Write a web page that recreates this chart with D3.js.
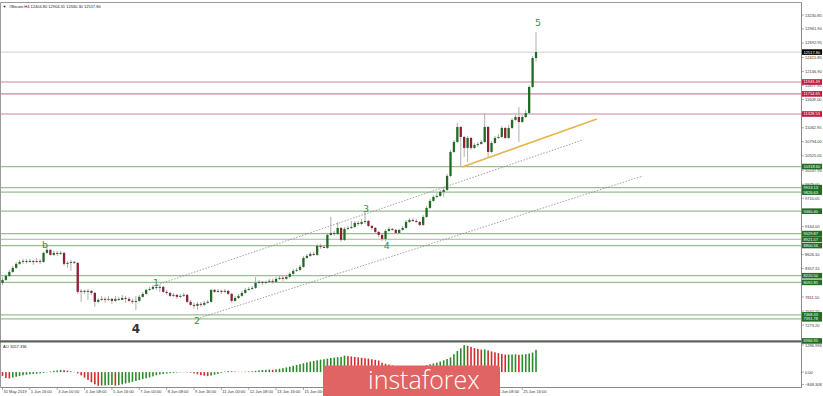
<!DOCTYPE html>
<html>
<head>
<meta charset="utf-8">
<script src="https://cdn.jsdelivr.net/npm/d3@7"></script>
<style>
  html, body { margin: 0; padding: 0; background: #fff; }
  svg { display: block; font-family: "Liberation Sans", Arial, sans-serif; }
</style>
</head>
<body>
<svg class="chart"></svg>
<script>
// H4 candles, 31 May 08:00 .. 26 Jun 08:00 (open of a bar = previous close)
const firstOpen = 8083;
const closes = [
  8140, 8217, 8294, 8371, 8448, 8486, 8505, 8486, 8505, 8486,
  8505, 8486, 8659, 8717, 8621, 8659, 8640, 8659, 8448, 8467,
  8486, 8467, 7910, 7929, 7910, 7929, 7890, 7718, 7756, 7775,
  7756, 7775, 7737, 7775, 7756, 7794, 7775, 7737, 7718, 7737,
  7814, 7871, 7948, 7967, 8006, 7987, 8006, 7910, 7890, 7833,
  7852, 7814, 7833, 7852, 7718, 7660, 7641, 7679, 7660, 7698,
  7718, 7948, 7910, 7929, 7910, 7929, 7871, 7737, 7794, 7833,
  7890, 7948, 7967, 7987, 8083, 8102, 8083, 8102, 8121, 8102,
  8160, 8179, 8160, 8198, 8256, 8313, 8332, 8390, 8563, 8601,
  8640, 8621, 8793, 8774, 8755, 9005, 9043, 9024, 9139, 8909,
  9120, 9139, 9158, 9235, 9216, 9254, 9273, 9177, 9139, 9062,
  9005, 8928, 9081, 9120, 9101, 9043, 9101, 9139, 9254, 9293,
  9273, 9254, 9197, 9350, 9523, 9658, 9735, 9754, 9831, 9869,
  10138, 10599, 10791, 11079, 10887, 10676, 10868, 10676, 10734, 10753,
  10791, 11079, 10599, 10772, 10868, 10887, 11060, 10868, 11060, 11214,
  11271, 11175, 11271, 11348, 11848, 12404.80, 12517.80
];
const highs = [
  8198, 8256, 8332, 8409, 8486, 8524, 8544, 8544, 8544, 8524,
  8563, 8544, 8678, 8793, 8736, 8697, 8697, 8697, 8678, 8505,
  8524, 8505, 8486, 7967, 7948, 7967, 7948, 7910, 7794, 7833,
  7814, 7833, 7794, 7833, 7814, 7852, 7833, 7814, 7775, 7833,
  7852, 7910, 7967, 8006, 8044, 8044, 8044, 8025, 7948, 7910,
  7890, 7871, 7871, 7890, 7871, 7756, 7698, 7718, 7718, 7737,
  7756, 7967, 7967, 7967, 7948, 7967, 7948, 7890, 7833, 7871,
  7929, 7987, 8006, 8025, 8198, 8140, 8121, 8121, 8160, 8160,
  8198, 8217, 8217, 8236, 8294, 8352, 8371, 8429, 8601, 8640,
  8678, 8678, 8832, 8832, 8812, 9043, 9350, 9081, 9254, 9158,
  9158, 9177, 9273, 9273, 9273, 9312, 9446, 9293, 9197, 9158,
  9081, 9024, 9120, 9158, 9139, 9120, 9120, 9177, 9293, 9331,
  9331, 9312, 9273, 9389, 9562, 9696, 9773, 9811, 9869, 9927,
  10177, 10638, 10830, 11156, 11099, 10906, 10906, 10887, 10772, 10791,
  10830, 11329, 11099, 10810, 10906, 10945, 11099, 11079, 11118, 11252,
  11310, 11463, 11310, 11406, 11886, 12443, 12904.31
];
const lows = [
  8044, 8121, 8198, 8275, 8352, 8429, 8448, 8448, 8467, 8429,
  8467, 8448, 8467, 8640, 8601, 8601, 8601, 8621, 8409, 8371,
  8313, 8448, 7871, 7718, 7871, 7756, 7852, 7621, 7698, 7737,
  7698, 7737, 7679, 7718, 7737, 7756, 7698, 7718, 7679, 7564,
  7718, 7794, 7852, 7929, 7948, 7948, 7910, 7890, 7852, 7814,
  7814, 7775, 7794, 7814, 7698, 7641, 7583, 7564, 7621, 7641,
  7679, 7698, 7890, 7890, 7871, 7890, 7852, 7698, 7718, 7775,
  7814, 7871, 7929, 7948, 7967, 8064, 8044, 8064, 8083, 8064,
  8083, 8140, 8121, 8140, 8179, 8236, 8294, 8313, 8371, 8544,
  8582, 8601, 8601, 8736, 8755, 8736, 8985, 8985, 9005, 8870,
  8889, 9101, 9120, 9139, 9177, 9197, 9216, 9158, 9101, 9043,
  8966, 8889, 8889, 9062, 9081, 9024, 9024, 9081, 9120, 9235,
  9254, 9235, 9177, 9177, 9331, 9504, 9639, 9715, 9735, 9735,
  9850, 10119, 10580, 10772, 10311, 10503, 10407, 10638, 10657, 10695,
  10734, 10772, 10503, 10580, 10753, 10849, 10868, 10849, 10849, 11041,
  11195, 10791, 11156, 11252, 11329, 11829, 12340.30
];
// Awesome Oscillator, one bar per candle
const aoValues = [
  -180, -280, -300, -260, -220, -180, -150, -120, -100, -90,
  -80, -60, -40, -10, 30, 60, 80, 100, 95, 70,
  40, 10, -60, -150, -260, -370, -480, -580, -650, -640,
  -630, -620, -610, -640, -620, -580, -540, -500, -460, -420,
  -380, -330, -290, -250, -200, -150, -110, -90, -70, -50,
  -35, -25, -15, -10, -15, -30, -60, -100, -140, -170,
  -190, -160, -120, -80, -40, 20, 50, 40, 25, 15,
  10, 20, 30, 40, 60, 80, 100, 110, 120, 105,
  130, 160, 190, 220, 260, 300, 340, 380, 420, 460,
  500, 530, 560, 590, 610, 640, 670, 690, 710, 720,
  780, 760, 740, 720, 700, 680, 660, 640, 610, 580,
  550, 440, 400, 360, 320, 280, 250, 230, 220, 230,
  240, 250, 260, 290, 330, 370, 410, 450, 500, 560,
  620, 700, 850, 1000, 1130, 1280, 1250, 1200, 1140, 1100,
  1070, 1080, 1030, 980, 940, 900, 860, 830, 835, 840,
  845, 820, 830, 850, 880, 930, 1057.336
];
const dateLabels = [
  "31 May 2019", "1 Jun 16:00", "3 Jun 00:00", "4 Jun 08:00", "5 Jun 16:00",
  "7 Jun 00:00", "8 Jun 08:00", "9 Jun 16:00", "11 Jun 00:00", "12 Jun 08:00",
  "13 Jun 16:00", "15 Jun 00:00", "16 Jun 08:00", "17 Jun 16:00", "19 Jun 00:00",
  "20 Jun 08:00", "21 Jun 16:00", "23 Jun 00:00", "24 Jun 08:00", "25 Jun 16:00"
];
const priceTicks = [
  13230.85, 12961.90, 12692.95, 12415.85, 12146.90, 11877.95, 11609.00, 11331.90,
  11062.95, 10794.00, 10525.05, 10247.95, 9979.00, 9710.05, 9441.10, 9164.00,
  8895.05, 8626.10, 8357.15, 8080.05, 7811.10, 7542.15, 7273.20
];
const aoTicks = [1286.996, 0, -848.308];
const redLevels = [11943.49, 11714.65, 11328.53];
const greenLevels = [10318.60, 9913.13, 9826.63, 9460.40, 9029.87, 8921.57, 8800.56,
  8220.50, 8092.85, 7468.43, 7391.78, 6966.95];
const lastPrice = 12517.80;
const headerText = "#Bitcoin,H4  12404.80 12904.31 12340.30 12517.80";
const aoText = "AO 1057.336";
// wave marks: bar index, price
const waveLabels = [
  { t: "b", i: 12.4, p: 8812, big: false },
  { t: "1", i: 44.9, p: 8083, big: false },
  { t: "2", i: 56.9, p: 7353, big: false },
  { t: "3", i: 106.3, p: 9504, big: false },
  { t: "4", i: 112.4, p: 8793, big: false },
  { t: "5", i: 156.6, p: 13096, big: false },
  { t: "4", i: 39.0, p: 7199, big: true }
];
const trendLines = [
  { a: [45.2, 8044], b: [169.7, 10830], kind: "dot" },
  { a: [57.7, 7410], b: [187.3, 10138], kind: "dot" },
  { a: [134.4, 10311], b: [173.8, 11233], kind: "gold" }
];

const W = 823, H = 396;
const axisX = 801.5;
const mainTop = 2.5, sepY = 341.5, aoBottom = 387.5;
const fs = 4;
const mark = { x: 323, y: 365.5, w: 177, h: 30.5 };

const svg = d3.select(".chart").attr("width", W).attr("height", H);
svg.append("rect").attr("width", W).attr("height", H).attr("fill", "#fff");

const x = d3.scaleLinear().domain([0, closes.length - 1]).range([2.5, 536]);
const y = d3.scaleLinear().domain([7273.20, 13230.85]).range([325, 15]);
const yAo = d3.scaleLinear().domain([-848.308, 1286.996]).range([390, 345]);

const candles = closes.map((c, i) => {
    const o = i === 0 ? firstOpen : closes[i - 1];
    return { i, o, c, h: Math.max(highs[i], o, c), l: Math.min(lows[i], o, c) };
});

svg.append("clipPath").attr("id", "mainClip")
    .append("rect").attr("x", 0).attr("y", mainTop).attr("width", axisX).attr("height", sepY - mainTop + 1);
svg.append("clipPath").attr("id", "aoClip")
    .append("rect").attr("x", 0).attr("y", sepY).attr("width", axisX).attr("height", aoBottom - sepY);

const main = svg.append("g").attr("clip-path", "url(#mainClip)");

// horizontal levels
main.append("line")
    .attr("x1", 0).attr("x2", axisX)
    .attr("y1", y(lastPrice)).attr("y2", y(lastPrice))
    .attr("stroke", "#cfcfcf").attr("stroke-width", 1);
main.selectAll(".lvl-red").data(redLevels).enter().append("line")
    .attr("x1", 0).attr("x2", axisX)
    .attr("y1", (d) => y(d)).attr("y2", (d) => y(d))
    .attr("stroke", "#c48a97").attr("stroke-width", 1.2);
main.selectAll(".lvl-green").data(greenLevels).enter().append("line")
    .attr("x1", 0).attr("x2", axisX)
    .attr("y1", (d) => y(d)).attr("y2", (d) => y(d))
    .attr("stroke", "#97bf90").attr("stroke-width", 1.2);

// trend / channel lines
main.selectAll(".trend").data(trendLines).enter().append("line")
    .attr("x1", (d) => x(d.a[0])).attr("y1", (d) => y(d.a[1]))
    .attr("x2", (d) => x(d.b[0])).attr("y2", (d) => y(d.b[1]))
    .attr("stroke", (d) => (d.kind === "gold" ? "#e6b54a" : "#8a8a8a"))
    .attr("stroke-width", (d) => (d.kind === "gold" ? 1.6 : 0.8))
    .attr("stroke-dasharray", (d) => (d.kind === "gold" ? null : "1.5,1.5"));

// candles
const bw = 2.3;
main.selectAll(".wick").data(candles).enter().append("line")
    .attr("x1", (d) => x(d.i)).attr("x2", (d) => x(d.i))
    .attr("y1", (d) => y(d.h)).attr("y2", (d) => y(d.l))
    .attr("stroke", "#9a9a9a").attr("stroke-width", 0.8);
main.selectAll(".body").data(candles).enter().append("rect")
    .attr("x", (d) => x(d.i) - bw / 2)
    .attr("width", bw)
    .attr("y", (d) => y(Math.max(d.o, d.c)))
    .attr("height", (d) => Math.max(0.8, Math.abs(y(d.o) - y(d.c))))
    .attr("fill", (d) => (d.c >= d.o ? "#1f6b22" : "#8e1f35"));

// wave labels
main.selectAll(".wave").data(waveLabels).enter().append("text")
    .attr("x", (d) => x(d.i)).attr("y", (d) => y(d.p))
    .attr("text-anchor", "middle").attr("dominant-baseline", "central")
    .attr("font-size", (d) => (d.big ? 12 : 9.5))
    .attr("font-weight", (d) => (d.big ? "bold" : "normal"))
    .attr("font-family", "DejaVu Sans, sans-serif")
    .attr("fill", (d) => (d.big ? "#333" : "#3f8f46"))
    .text((d) => d.t);

// AO histogram
const ao = svg.append("g").attr("clip-path", "url(#aoClip)");
ao.selectAll(".aobar").data(aoValues).enter().append("rect")
    .attr("x", (d, i) => x(i) - 0.8).attr("width", 1.6)
    .attr("y", (d) => Math.min(yAo(d), yAo(0)))
    .attr("height", (d) => Math.abs(yAo(d) - yAo(0)))
    .attr("fill", (d, i) => (i > 0 && d >= aoValues[i - 1] ? "#2b8a2b" : "#d42a2a"));

// frame
svg.append("line").attr("x1", 0.5).attr("x2", axisX).attr("y1", mainTop).attr("y2", mainTop).attr("stroke", "#9a9a9a");
svg.append("line").attr("x1", 0.5).attr("x2", 0.5).attr("y1", mainTop).attr("y2", aoBottom).attr("stroke", "#9a9a9a");
svg.append("line").attr("x1", axisX).attr("x2", axisX).attr("y1", mainTop).attr("y2", aoBottom).attr("stroke", "#8a8a8a");
svg.append("line").attr("x1", 0.5).attr("x2", axisX).attr("y1", aoBottom).attr("y2", aoBottom).attr("stroke", "#8a8a8a");
svg.append("line").attr("x1", 0).attr("x2", axisX).attr("y1", sepY).attr("y2", sepY).attr("stroke", "#5b605b").attr("stroke-width", 2);

// right price axis
const axisG = svg.append("g").attr("font-size", fs).attr("fill", "#333");
priceTicks.forEach((v) => {
    axisG.append("line").attr("x1", axisX).attr("x2", axisX + 2.5)
        .attr("y1", y(v)).attr("y2", y(v)).attr("stroke", "#777").attr("stroke-width", 0.6);
    axisG.append("text").attr("x", 805).attr("y", y(v)).attr("dominant-baseline", "central")
        .text(d3.format(".2f")(v));
});
aoTicks.forEach((v) => {
    const yy = Math.min(yAo(v), aoBottom - 3);
    axisG.append("line").attr("x1", axisX).attr("x2", axisX + 2.5)
        .attr("y1", yy).attr("y2", yy).attr("stroke", "#777").attr("stroke-width", 0.6);
    axisG.append("text").attr("x", 805).attr("y", yy).attr("dominant-baseline", "central")
        .text(v === 0 ? "0.00" : d3.format(".3f")(v));
});

// level price tags
const tags = [{ v: lastPrice, c: "#000" }]
    .concat(redLevels.map((v) => ({ v, c: "#c41a3e" })))
    .concat(greenLevels.map((v) => ({ v, c: "#1f6e22" })));
const tagG = svg.append("g");
tags.forEach((t) => {
    tagG.append("rect").attr("x", axisX + 0.5).attr("y", y(t.v) - 2.8)
        .attr("width", 20).attr("height", 5.6).attr("fill", t.c);
    tagG.append("text").attr("x", axisX + 2).attr("y", y(t.v))
        .attr("dominant-baseline", "central").attr("font-size", fs).attr("fill", "#fff")
        .text(d3.format(".2f")(t.v));
});

// date axis (labels lying fully under the watermark are not visible in the original)
const dateG = svg.append("g").attr("font-size", fs).attr("fill", "#333");
dateLabels.forEach((lab, k) => {
    const xx = x(k * 8);
    dateG.append("line").attr("x1", xx).attr("x2", xx).attr("y1", aoBottom).attr("y2", aoBottom + 2.5)
        .attr("stroke", "#777").attr("stroke-width", 0.6);
    if (xx > mark.x && xx + 24 < mark.x + mark.w) return;
    dateG.append("text").attr("x", xx + 1).attr("y", 392.5).text(lab);
});

// header texts
svg.append("text").attr("x", 2.5).attr("y", 7.5).attr("font-size", 4).attr("fill", "#222").text("\u25BC");
svg.append("text").attr("x", 9).attr("y", 7.5).attr("font-size", fs).attr("fill", "#222").text(headerText);
svg.append("text").attr("x", 3).attr("y", 348).attr("font-size", fs).attr("fill", "#222").text(aoText);

// watermark
svg.append("rect").attr("x", mark.x).attr("y", mark.y).attr("width", mark.w).attr("height", mark.h + 4)
    .attr("rx", 3).attr("fill", "#e06464");
svg.append("text").attr("x", 368).attr("y", 388.5)
    .attr("font-family", "Open Sans, sans-serif").attr("font-weight", 300)
    .attr("font-size", 25).attr("fill", "#fff").text("instaforex");
</script>
</body>
</html>
